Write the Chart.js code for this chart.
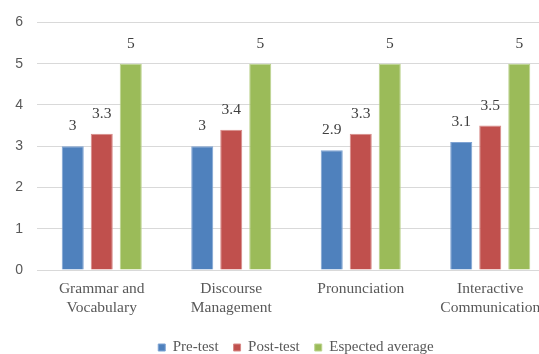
<!DOCTYPE html>
<html>
<head>
<meta charset="utf-8">
<script src="https://cdn.jsdelivr.net/npm/chart.js@4.4.1/dist/chart.umd.min.js"></script>
<style>
    html, body { margin: 0; padding: 0; background: #fff; overflow: hidden; }
    #wrap { width: 588px; height: 354px; position: relative; }
</style>
</head>
<body>
<div id="wrap"><canvas id="chart" width="588" height="354"></canvas></div>
<script>
// Chart data
const categories = [['Grammar and', 'Vocabulary'], ['Discourse', 'Management'], 'Pronunciation', ['Interactive', 'Communication']];
const preTest = [3, 3, 2.9, 3.1];
const postTest = [3.3, 3.4, 3.3, 3.5];
const expectedAverage = [5, 5, 5, 5];
const seriesNames = ['Pre-test', 'Post-test', 'Espected average'];
const yTicks = [0, 1, 2, 3, 4, 5, 6];

const serif = '"Liberation Serif", "Times New Roman", serif';
const sans = '"Liberation Sans", Arial, sans-serif';

// Draw value labels above each bar
const valueLabels = {
    id: 'valueLabels',
    afterDatasetsDraw(chart) {
        const ctx = chart.ctx;
        ctx.save();
        ctx.font = '15.5px ' + serif;
        ctx.fillStyle = '#404040';
        ctx.textAlign = 'center';
        ctx.textBaseline = 'middle';
        chart.data.datasets.forEach((ds, i) => {
            chart.getDatasetMeta(i).data.forEach((bar, j) => {
                ctx.fillText(String(ds.data[j]), bar.x, bar.y - 20);
            });
        });
        ctx.restore();
    }
};

new Chart(document.getElementById('chart').getContext('2d'), {
    type: 'bar',
    data: {
        labels: categories,
        datasets: [
            { label: seriesNames[0], data: preTest, backgroundColor: '#4f81bd', borderColor: '#7fa3d3', borderWidth: 1 },
            { label: seriesNames[1], data: postTest, backgroundColor: '#c0504d', borderColor: '#d88a88', borderWidth: 1 },
            { label: seriesNames[2], data: expectedAverage, backgroundColor: '#9bbb59', borderColor: '#bcd38e', borderWidth: 1 }
        ]
    },
    options: {
        responsive: false,
        animation: false,
        datasets: { bar: { categoryPercentage: 0.672, barPercentage: 0.76 } },
        layout: { padding: { top: 20, right: 33, bottom: -11, left: 0 } },
        plugins: {
            legend: {
                position: 'bottom',
                fullSize: false,
                labels: {
                    boxWidth: 7,
                    boxHeight: 7,
                    padding: 15,
                    color: '#595959',
                    font: { family: serif, size: 15 }
                }
            },
            tooltip: { enabled: false }
        },
        scales: {
            x: {
                grid: { display: false, drawTicks: false },
                border: { color: '#d9d9d9', width: 1 },
                ticks: { color: '#595959', font: { family: serif, size: 15.5 }, padding: 10, maxRotation: 0, autoSkip: false },
                afterFit: scale => { scale.height = 55; }
            },
            y: {
                min: 0,
                max: 6,
                afterBuildTicks: scale => { scale.ticks = yTicks.map(v => ({ value: v })); },
                grid: { color: '#d9d9d9', lineWidth: 1, drawTicks: false },
                border: { display: false },
                ticks: { color: '#595959', font: { family: sans, size: 14 }, padding: 14 },
                afterFit: scale => { scale.width = 37; }
            }
        }
    },
    plugins: [valueLabels]
});
</script>
</body>
</html>
